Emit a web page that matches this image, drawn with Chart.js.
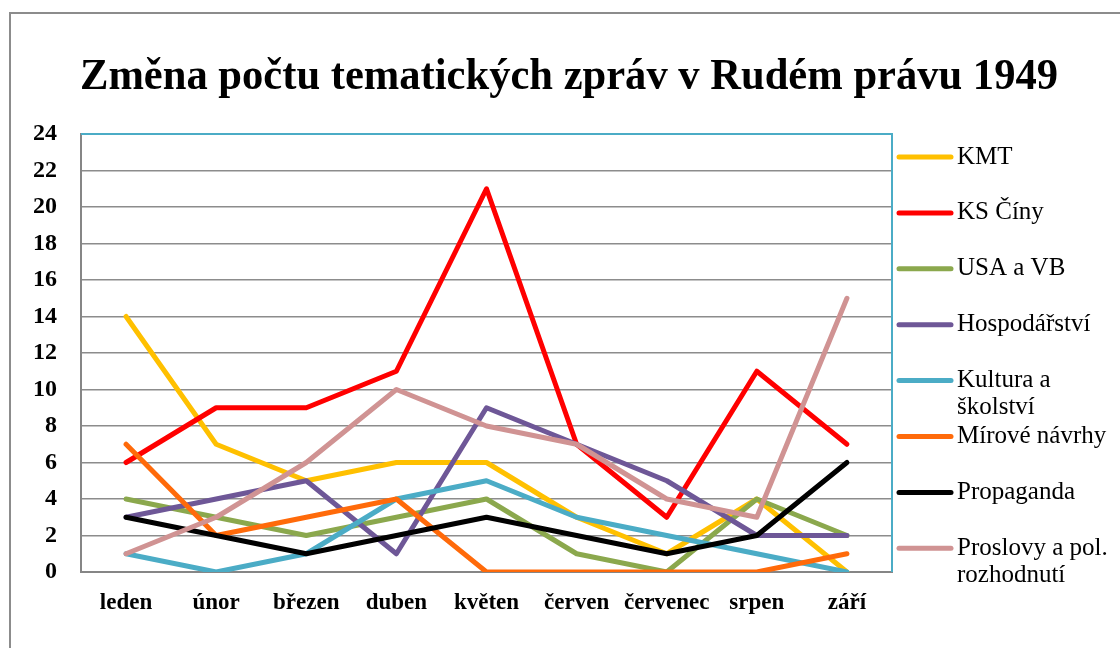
<!DOCTYPE html>
<html>
<head>
<meta charset="utf-8">
<script src="https://cdn.jsdelivr.net/npm/chart.js@4.4.0/dist/chart.umd.min.js"></script>
<style>
	body { margin: 0; background: #fff; }
	#wrap { width: 1120px; height: 648px; }
</style>
</head>
<body>
<div id="wrap"><canvas id="canvas" width="1120" height="648"></canvas></div>
<script>
// data
var months = ['leden', 'únor', 'březen', 'duben', 'květen', 'červen', 'červenec', 'srpen', 'září'];
var names = ['KMT', 'KS Číny', 'USA a VB', 'Hospodářství', 'Kultura a školství', 'Mírové návrhy', 'Propaganda', 'Proslovy a pol. rozhodnutí'];
var kmt        = [14, 7, 5, 6, 6, 3, 1, 4, 0];
var ksCiny     = [6, 9, 9, 11, 21, 7, 3, 11, 7];
var usaVb      = [4, 3, 2, 3, 4, 1, 0, 4, 2];
var hospodarstvi = [3, 4, 5, 1, 9, 7, 5, 2, 2];
var kultura    = [1, 0, 1, 4, 5, 3, 2, 1, 0];
var mirove     = [7, 2, 3, 4, 0, 0, 0, 0, 1];
var propaganda = [3, 2, 1, 2, 3, 2, 1, 2, 6];
var proslovy   = [1, 3, 6, 10, 8, 7, 4, 3, 15];
var yTicks = [0, 2, 4, 6, 8, 10, 12, 14, 16, 18, 20, 22, 24];

var title = 'Změna počtu tematických zpráv v Rudém právu 1949';
var colors = ['#FFC000', '#FF0000', '#8BA84D', '#6E5797', '#4BACC6', '#FF6A0A', '#000000', '#D09393'];
var series = [kmt, ksCiny, usaVb, hospodarstvi, kultura, mirove, propaganda, proslovy];

var serif = "'Liberation Serif', 'Times New Roman', serif";

var datasets = [];
for (var i = 0; i < series.length; i++) {
	datasets.push({
		label: names[i],
		data: series[i],
		borderColor: colors[i],
		backgroundColor: colors[i],
		borderWidth: 5,
		borderCapStyle: 'round',
		borderJoinStyle: 'round',
		pointRadius: 0,
		tension: 0,
		order: series.length - i   // last series on top, like Excel
	});
}

// frame, title, plot border and legend
var decor = {
	id: 'decor',
	beforeDraw: function(chart) {
		var ctx = chart.ctx;
		ctx.save();
		ctx.fillStyle = '#fff';
		ctx.fillRect(0, 0, chart.width, chart.height);
		ctx.strokeStyle = '#8c8c8c';
		ctx.lineWidth = 2;
		ctx.beginPath();
		ctx.moveTo(10, chart.height + 5);
		ctx.lineTo(10, 13);
		ctx.lineTo(chart.width + 5, 13);
		ctx.stroke();

		// title
		ctx.fillStyle = '#000';
		ctx.font = 'bold 44px ' + serif;
		ctx.textAlign = 'left';
		ctx.textBaseline = 'alphabetic';
		var w = ctx.measureText(title).width;
		var target = 978;
		ctx.translate(80, 89);
		ctx.scale(target / w, 1);
		ctx.fillText(title, 0, 0);
		ctx.restore();
	},
	beforeDatasetsDraw: function(chart) {
		var a = chart.chartArea;
		var ctx = chart.ctx;
		ctx.save();
		ctx.strokeStyle = '#4BACC6';
		ctx.lineWidth = 2;
		ctx.beginPath();
		ctx.moveTo(a.left, a.top);
		ctx.lineTo(a.right, a.top);
		ctx.lineTo(a.right, a.bottom);
		ctx.stroke();
		ctx.restore();
	},
	afterDraw: function(chart) {
		var ctx = chart.ctx;
		ctx.save();
		ctx.font = '25px ' + serif;
		ctx.textBaseline = 'middle';
		ctx.textAlign = 'left';
		chart.data.datasets.forEach(function(ds, i) {
			var y = 157 + i * 55.9;
			ctx.strokeStyle = ds.borderColor;
			ctx.lineWidth = 5;
			ctx.lineCap = 'round';
			ctx.beginPath();
			ctx.moveTo(899, y);
			ctx.lineTo(951, y);
			ctx.stroke();
			// wrap long labels
			var words = ds.label.split(' ');
			var lines = [];
			var cur = '';
			words.forEach(function(wd) {
				var t = cur ? cur + ' ' + wd : wd;
				if (cur && ctx.measureText(t).width > 162) {
					lines.push(cur);
					cur = wd;
				} else {
					cur = t;
				}
			});
			lines.push(cur);
			ctx.fillStyle = '#000';
			lines.forEach(function(l, k) {
				ctx.fillText(l, 957, y + k * 27);
			});
		});
		ctx.restore();
	}
};

var ctx = document.getElementById('canvas').getContext('2d');
var chart = new Chart(ctx, {
	type: 'line',
	data: {
		labels: months,
		datasets: datasets
	},
	options: {
		responsive: false,
		animation: false,
		maintainAspectRatio: false,
		layout: {
			padding: { left: 0, top: 134, right: 228, bottom: 0 }
		},
		plugins: {
			legend: { display: false },
			tooltip: { enabled: false },
			title: { display: false }
		},
		scales: {
			x: {
				offset: true,
				grid: { display: false },
				border: { display: true, color: '#868686', width: 2 },
				ticks: {
					color: '#000',
					font: { family: serif, size: 23, weight: 'bold' },
					padding: 9,
					maxRotation: 0,
					autoSkip: false
				},
				afterFit: function(scale) { scale.height = 76; }
			},
			y: {
				min: 0,
				max: 24,
				grid: { color: '#8c8c8c', lineWidth: 1.5, drawTicks: false },
				border: { display: true, color: '#868686', width: 2 },
				afterBuildTicks: function(scale) {
					scale.ticks = yTicks.map(function(v) { return { value: v }; });
				},
				ticks: {
					color: '#000',
					font: { family: serif, size: 24, weight: 'bold' },
					padding: 24
				},
				afterFit: function(scale) { scale.width = 81; }
			}
		}
	},
	plugins: [decor]
});
</script>
</body>
</html>
